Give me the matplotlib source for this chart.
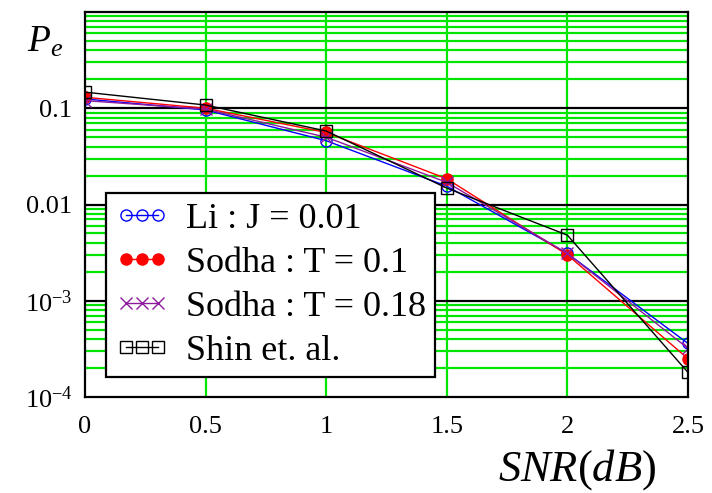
import numpy as np
import matplotlib
matplotlib.use('Agg')
import matplotlib.pyplot as plt
from matplotlib.ticker import FixedLocator, NullFormatter

plt.rcParams['font.family'] = ['Liberation Serif', 'DejaVu Serif']
plt.rcParams['mathtext.fontset'] = 'custom'
plt.rcParams['mathtext.rm'] = 'Liberation Serif'
plt.rcParams['mathtext.it'] = 'Liberation Serif:italic'

snr = [0, 0.5, 1, 1.5, 2, 2.5]
li_j001 = [0.125, 0.096, 0.046, 0.0155, 0.0031, 3.6e-4]
sodha_t01 = [0.13, 0.1, 0.056, 0.0185, 0.0030, 2.5e-4]
sodha_t018 = [0.12, 0.098, 0.050, 0.017, 0.0031, 3.2e-4]
shin = [0.147, 0.108, 0.058, 0.0148, 0.0048, 1.8e-4]

labels = ['Li : J = 0.01', 'Sodha : T = 0.1', 'Sodha : T = 0.18', 'Shin et. al.']

fig = plt.figure(figsize=(7.12, 4.93), dpi=100)
ax = fig.add_axes([85 / 712, 1 - 397 / 493, (688 - 85) / 712, (397 - 12) / 493])

ax.set_yscale('log')
ax.set_xlim(0, 2.5)
ax.set_ylim(1e-4, 1)

# grid: green minors, black decades
minor = [m * 10.0 ** e for e in range(-4, 0) for m in range(2, 10)]
ax.yaxis.set_minor_locator(FixedLocator(minor))
ax.yaxis.set_minor_formatter(NullFormatter())
for v in minor:
    ax.axhline(v, color='#00e600', lw=1.6, zorder=0)
for v in [1e-3, 1e-2, 1e-1]:
    ax.axhline(v, color='black', lw=1.6, zorder=0.5)
for x in [0.5, 1, 1.5, 2]:
    ax.axvline(x, color='#00e600', lw=1.6, zorder=0.4)

ax.plot(snr, li_j001, '-', color='blue', marker='o', mfc='none', ms=8, lw=1.0, label=labels[0], zorder=3)
ax.plot(snr, sodha_t01, '-', color='red', marker='o', ms=8, lw=1.0, label=labels[1], zorder=3)
ax.plot(snr, sodha_t018, '-', color='#8e1a9e', marker='x', ms=8, lw=1.0, label=labels[2], zorder=3)
ax.plot(snr, shin, '-', color='black', marker='s', mfc='none', ms=9, lw=1.0, label=labels[3], zorder=4)

ax.set_yticks([1e-4, 1e-3, 1e-2, 1e-1])
ax.set_yticklabels([r'$10^{-4}$', r'$10^{-3}$', '0.01', '0.1'])
ax.set_xticks(snr)
ax.set_xticklabels(['0', '0.5', '1', '1.5', '2', '2.5'])
ax.tick_params(axis='both', which='both', length=0, labelsize=19)
ax.tick_params(axis='x', pad=14)
ax.tick_params(axis='y', pad=9)

for s in ax.spines.values():
    s.set_linewidth(1.6)
    s.set_zorder(5)

leg = ax.legend(loc='lower left', bbox_to_anchor=(0.035, 0.052), fontsize=26,
                numpoints=3, handlelength=1.5, handletextpad=0.45,
                fancybox=False, framealpha=1, edgecolor='black',
                borderpad=0.25, labelspacing=0.3, borderaxespad=0)
leg.get_frame().set_linewidth(1.6)
leg.set_zorder(6)

fig.text(45 / 712, 1 - 42 / 493, r'$P_e$', fontsize=27, ha='center', va='center')
fig.text(577 / 712, 1 - 470 / 493, r'$SNR(dB)$', fontsize=32, ha='center', va='center')

fig.savefig('out.png', dpi=100)
